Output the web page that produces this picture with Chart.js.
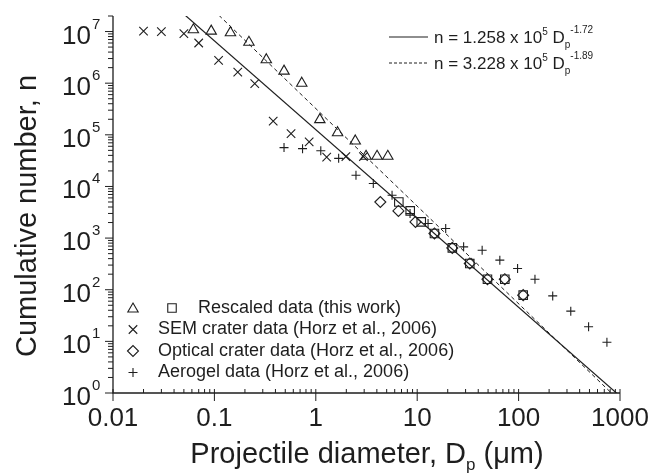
<!DOCTYPE html>
<html>
<head>
<meta charset="utf-8">
<script src="https://cdn.jsdelivr.net/npm/chart.js"></script>
<style>
  html, body { margin: 0; padding: 0; background: #fff; }
  #wrap { width: 654px; height: 473px; }
</style>
</head>
<body>
<div id="wrap"><canvas id="chart" width="654" height="473"></canvas></div>
<script>
const ink = '#1e1e1e';
const fontFamily = '"Liberation Sans", Arial, Helvetica, sans-serif';

// Rescaled data (this work), triangles
const rescaledTriX = [0.062, 0.093, 0.144, 0.219, 0.325, 0.486, 0.727, 1.096, 1.64, 2.45, 3.13, 4.02, 5.13];
const rescaledTriY = [1.08e7, 1.02e7, 9.5e6, 6.2e6, 2.85e6, 1.71e6, 1.0e6, 1.97e5, 1.1e5, 7.6e4, 3.84e4, 3.84e4, 3.84e4];

// Rescaled data (this work), squares
const rescaledSqX = [6.59, 8.53, 10.96, 14.8, 22.2, 33.0, 49.3, 73.1, 111];
const rescaledSqY = [5.0e3, 3.36e3, 2.06e3, 1.23e3, 646, 323, 160, 160, 78.6];

// SEM crater data (Horz et al., 2006)
const semX = [0.02, 0.03, 0.05, 0.07, 0.11, 0.17, 0.25, 0.38, 0.57, 0.86, 1.28, 1.98, 2.95];
const semY = [1.02e7, 1.0e7, 9.1e6, 6.0e6, 2.76e6, 1.64e6, 9.8e5, 1.85e5, 1.05e5, 7.3e4, 3.7e4, 3.8e4, 3.8e4];

// Optical crater data (Horz et al., 2006)
const opticalX = [4.33, 6.53, 9.62, 14.8, 22.2, 33.0, 49.3, 73.1, 111];
const opticalY = [5.0e3, 3.36e3, 2.06e3, 1.23e3, 646, 323, 160, 160, 78.6];

// Aerogel data (Horz et al., 2006)
const aerogelX = [0.486, 0.74, 1.12, 1.68, 2.49, 3.69, 5.65, 8.5, 12.8, 19.1, 28.7, 43.7, 65.3, 97.7, 145, 217, 327, 490, 743];
const aerogelY = [5.65e4, 5.4e4, 4.9e4, 3.5e4, 1.65e4, 1.14e4, 6.76e3, 3.0e3, 1.92e3, 1.53e3, 676, 583, 374, 258, 160, 76, 38.5, 19.2, 9.6];

// power-law fits shown in the key: n = a * Dp^b
const fitSolid = { a: 1.258e5, b: -1.72 };
const fitDashed = { a: 3.228e5, b: -1.89 };
const fitRange = [0.01, 1000];

const xTickValues = [0.01, 0.1, 1, 10, 100, 1000];
const xTickLabels = ['0.01', '0.1', '1', '10', '100', '1000'];
const yTickPowers = [0, 1, 2, 3, 4, 5, 6, 7];
const yMin = 1;
const yMax = 2e7;

const toPoints = (xs, ys) => xs.map((x, i) => ({ x: x, y: ys[i] }));
const fitPoints = (fit) => fitRange.map(d => ({ x: d, y: fit.a * Math.pow(d, fit.b) }));

function markerSet(label, data, style, radius) {
  return {
    label: label,
    data: data,
    showLine: false,
    pointStyle: style,
    pointRadius: radius,
    pointHoverRadius: radius,
    pointBorderColor: ink,
    pointBackgroundColor: 'rgba(0,0,0,0)',
    pointBorderWidth: 1.1
  };
}

function lineSet(label, data, dash) {
  return {
    label: label,
    data: data,
    showLine: true,
    borderColor: ink,
    borderWidth: dash.length ? 1 : 1.2,
    borderDash: dash,
    pointRadius: 0,
    fill: false
  };
}

// hollow key symbol, same shapes as the plotted points
function marker(ctx, style, radius, x, y) {
  if (!(Chart.helpers && Chart.helpers.drawPoint)) return;
  ctx.save();
  ctx.fillStyle = 'rgba(0,0,0,0)';
  ctx.strokeStyle = ink;
  ctx.lineWidth = 1.1;
  Chart.helpers.drawPoint(ctx, { pointStyle: style, radius: radius, rotation: 0, borderWidth: 1.1 }, x, y);
  ctx.restore();
}

function segment(ctx, x1, y1, x2, y2) {
  ctx.beginPath();
  ctx.moveTo(x1, y1);
  ctx.lineTo(x2, y2);
  ctx.stroke();
}

// draws a run of [text, size, dy] pieces, left to right
function richText(ctx, x, y, parts) {
  let cx = x;
  parts.forEach(p => {
    ctx.font = p[1] + 'px ' + fontFamily;
    ctx.fillText(p[0], cx, y + p[2]);
    cx += ctx.measureText(p[0]).width;
  });
  return cx;
}

function richWidth(ctx, parts) {
  let w = 0;
  parts.forEach(p => {
    ctx.font = p[1] + 'px ' + fontFamily;
    w += ctx.measureText(p[0]).width;
  });
  return w;
}

const axesPlugin = {
  id: 'axesPlugin',
  afterDraw(chart) {
    const ctx = chart.ctx;
    const xs = chart.scales.x;
    const ys = chart.scales.y;
    const area = chart.chartArea;
    ctx.save();
    ctx.strokeStyle = ink;
    ctx.fillStyle = ink;

    // axis lines
    ctx.lineWidth = 1.3;
    ctx.beginPath();
    ctx.moveTo(area.left, area.top);
    ctx.lineTo(area.left, area.bottom);
    ctx.lineTo(area.right, area.bottom);
    ctx.stroke();

    // x ticks: majors cross the axis, minors point inward
    ctx.lineWidth = 1;
    xTickValues.forEach((v, i) => {
      const px = xs.getPixelForValue(v);
      segment(ctx, px, area.bottom - 4, px, area.bottom + 8);
      if (i < xTickValues.length - 1) {
        for (let m = 2; m <= 9; m++) {
          const q = xs.getPixelForValue(m * v);
          segment(ctx, q, area.bottom - 4, q, area.bottom);
        }
      }
    });

    // y ticks point outward
    yTickPowers.forEach(p => {
      const v = Math.pow(10, p);
      const py = ys.getPixelForValue(v);
      segment(ctx, area.left - 8, py, area.left, py);
      for (let m = 2; m <= 9; m++) {
        if (m * v > yMax) break;
        const q = ys.getPixelForValue(m * v);
        segment(ctx, area.left - 5, q, area.left, q);
      }
    });

    // x tick labels
    ctx.textAlign = 'center';
    ctx.textBaseline = 'alphabetic';
    ctx.font = '26px ' + fontFamily;
    xTickValues.forEach((v, i) => {
      ctx.fillText(xTickLabels[i], xs.getPixelForValue(v), area.bottom + 33);
    });

    // y tick labels as 10 with superscript power
    yTickPowers.forEach(p => {
      const py = ys.getPixelForValue(Math.pow(10, p));
      ctx.textAlign = 'right';
      ctx.font = '26px ' + fontFamily;
      ctx.fillText('10', 91, py + 12);
      ctx.textAlign = 'left';
      ctx.font = '15px ' + fontFamily;
      ctx.fillText(String(p), 92, py - 3);
    });

    // x title
    ctx.textAlign = 'left';
    const xTitle = [['Projectile diameter, D', 29, 0], ['p', 17, 7], [' (\u03bcm)', 29, 0]];
    const xw = richWidth(ctx, xTitle);
    richText(ctx, 367 - xw / 2, 463, xTitle);

    // y title
    ctx.save();
    ctx.translate(36, 216);
    ctx.rotate(-Math.PI / 2);
    ctx.textAlign = 'center';
    ctx.font = '29px ' + fontFamily;
    ctx.fillText('Cumulative number, n', 0, 0);
    ctx.restore();

    // fit key, upper right
    ctx.textAlign = 'left';
    ctx.lineWidth = 1.2;
    segment(ctx, 389, 37, 428, 37);
    richText(ctx, 434, 43, [['n = 1.258 x 10', 17, 0], ['5', 10, -8], [' D', 17, 0], ['p', 10, 5], ['-1.72', 10, -10]]);
    ctx.lineWidth = 1;
    ctx.setLineDash([3, 2]);
    segment(ctx, 389, 63, 428, 63);
    ctx.setLineDash([]);
    richText(ctx, 434, 69, [['n = 3.228 x 10', 17, 0], ['5', 10, -8], [' D', 17, 0], ['p', 10, 5], ['-1.89', 10, -10]]);

    // symbol key, lower left
    ctx.font = '18px ' + fontFamily;
    ctx.textBaseline = 'middle';
    const rows = [308, 329.5, 351, 372.5];
    marker(ctx, 'triangle', 6, 133, rows[0] + 1);
    marker(ctx, 'rect', 6, 172, rows[0]);
    ctx.fillText('Rescaled data (this work)', 198, rows[0]);
    marker(ctx, 'crossRot', 6, 133, rows[1]);
    ctx.fillText('SEM crater data (Horz et al., 2006)', 158, rows[1]);
    marker(ctx, 'rectRot', 5.5, 133, rows[2]);
    ctx.fillText('Optical crater data (Horz et al., 2006)', 158, rows[2]);
    marker(ctx, 'cross', 4.5, 133, rows[3]);
    ctx.fillText('Aerogel data (Horz et al., 2006)', 158, rows[3]);

    ctx.restore();
  }
};

new Chart(document.getElementById('chart'), {
  type: 'scatter',
  data: {
    datasets: [
      lineSet('fit 1.72', fitPoints(fitSolid), []),
      lineSet('fit 1.89', fitPoints(fitDashed), [4, 3]),
      markerSet('Rescaled data (this work)', toPoints(rescaledTriX, rescaledTriY), 'triangle', 6),
      markerSet('Rescaled data (this work) squares', toPoints(rescaledSqX, rescaledSqY), 'rect', 6),
      markerSet('SEM crater data (Horz et al., 2006)', toPoints(semX, semY), 'crossRot', 6),
      markerSet('Optical crater data (Horz et al., 2006)', toPoints(opticalX, opticalY), 'rectRot', 5.5),
      markerSet('Aerogel data (Horz et al., 2006)', toPoints(aerogelX, aerogelY), 'cross', 4.5)
    ]
  },
  options: {
    responsive: false,
    animation: false,
    layout: { padding: { left: 113, right: 34, top: 16, bottom: 80 } },
    plugins: {
      legend: { display: false },
      tooltip: { enabled: false }
    },
    scales: {
      x: { type: 'logarithmic', min: 0.01, max: 1000, display: false },
      y: { type: 'logarithmic', min: yMin, max: yMax, display: false }
    }
  },
  plugins: [axesPlugin]
});
</script>
</body>
</html>
